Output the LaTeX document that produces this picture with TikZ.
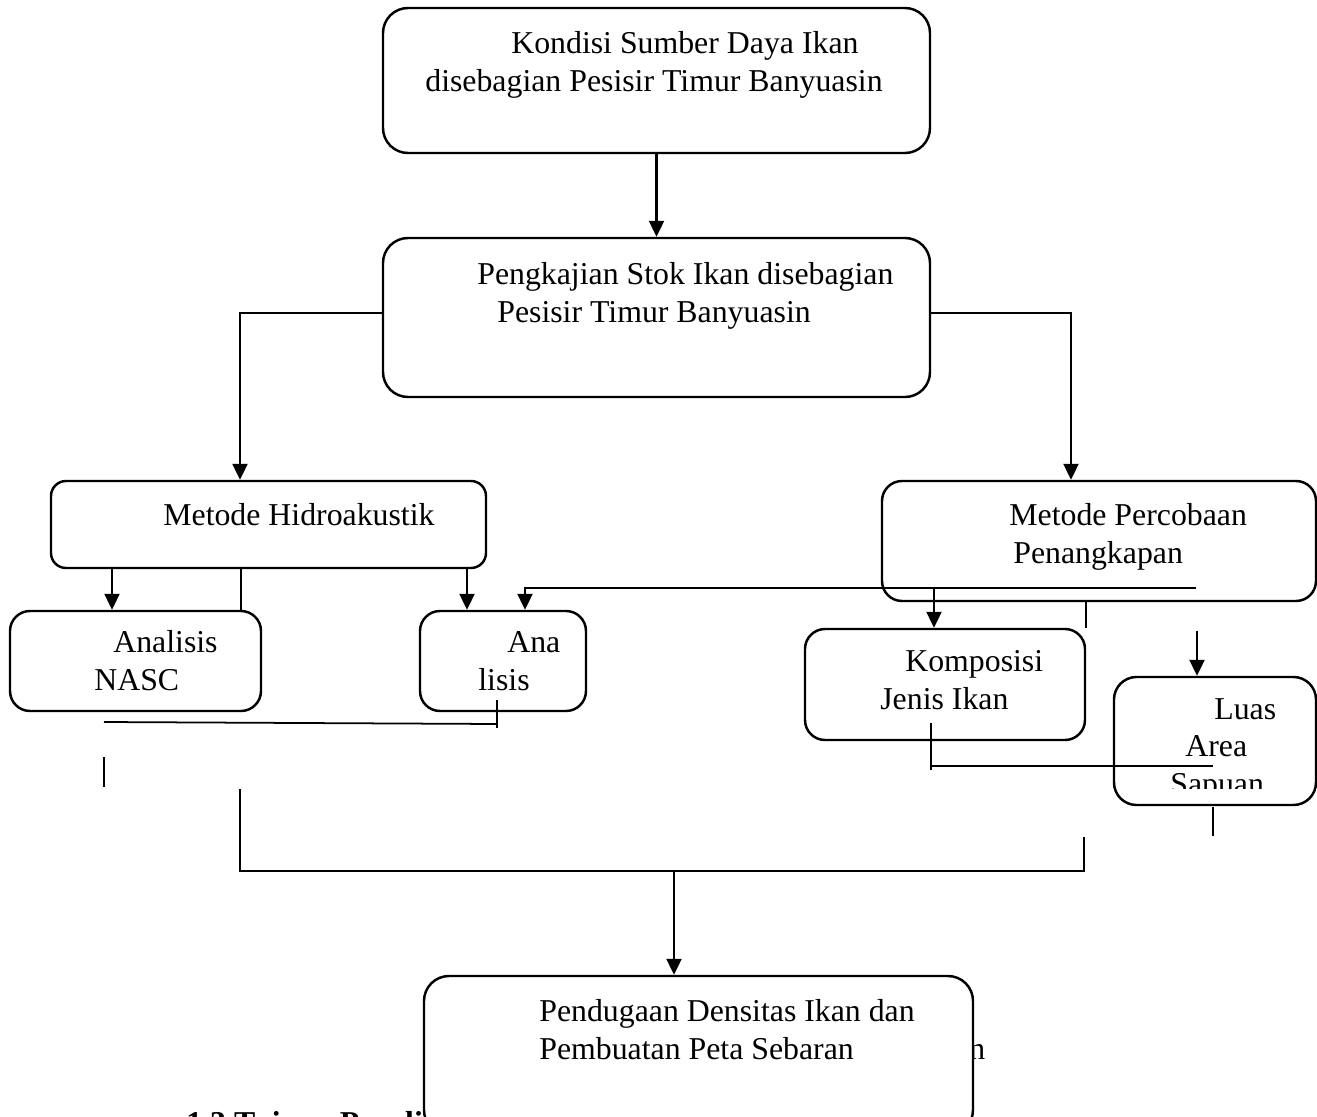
\documentclass[tikz,border=0pt]{standalone}
\usepackage{fontspec}
\setmainfont{Liberation Serif}
\usetikzlibrary{arrows.meta, calc}

\tikzset{
  box/.style={
    rectangle, rounded corners=0.45cm,
    draw=black, line width=1.4pt, fill=white,
    inner sep=0pt
  },
  txt/.style={anchor=base west, inner sep=0pt, align=left,
    font=\fontsize{18.1}{21.3}\selectfont},
  arr/.style={-{Triangle[length=0.32cm, width=0.3cm]}, line width=1.3pt},
  ln/.style={line width=1.3pt},
  thinLn/.style={line width=1pt}
}

\begin{document}
\begin{tikzpicture}
  \useasboundingbox (0,0) rectangle (26.34,-22.34);
  \clip (0,0) rectangle (26.34,-22.34);

  % text lying under the last box
  \node[txt, font=\fontsize{18.1}{21.3}\selectfont\bfseries] (tujuan) at (3.72,-22.66) {1.3 Tujuan Penelitian};
  \node[txt] (sisa) at (19.38,-21.18) {n};

  % boxes
  \node[box, minimum width=10.94cm, minimum height=2.9cm, rounded corners=0.5cm] (kondisi) at (13.13,-1.61) {};
  \node[box, minimum width=10.94cm, minimum height=3.18cm, rounded corners=0.5cm] (kajian) at (13.13,-6.35) {};
  \node[box, minimum width=8.7cm, minimum height=1.74cm, rounded corners=0.3cm] (hidro) at (5.37,-10.49) {};
  \node[box, minimum width=8.68cm, minimum height=2.4cm, rounded corners=0.4cm] (tangkap) at (21.98,-10.82) {};
  \node[box, minimum width=5.02cm, minimum height=2cm, rounded corners=0.4cm] (nasc) at (2.71,-13.22) {};
  \node[box, minimum width=3.32cm, minimum height=2cm, rounded corners=0.4cm] (ana) at (10.06,-13.22) {};
  \node[box, minimum width=5.6cm, minimum height=2.22cm, rounded corners=0.4cm] (kompo) at (18.9,-13.69) {};
  \node[box, minimum width=4.04cm, minimum height=2.56cm, rounded corners=0.45cm] (luas) at (24.3,-14.82) {};
  \node[box, minimum width=10.98cm, minimum height=3.18cm, rounded corners=0.5cm] (duga) at (13.97,-21.11) {};

  % box texts (anchored at the last line)
  \node[txt] (tKondisi) at (8.5,-1.82) {\hspace*{1.72cm}Kondisi Sumber Daya Ikan\\disebagian Pesisir Timur Banyuasin};
  \node[txt] (tKajian) at (9.54,-6.44) {Pengkajian Stok Ikan disebagian\\\hspace*{0.4cm}Pesisir Timur Banyuasin};
  \node[txt] (tHidro) at (3.26,-10.5) {Metode Hidroakustik};
  \node[txt] (tTangkap) at (20.18,-11.26) {Metode Percobaan\\\hspace*{0.08cm}Penangkapan};
  \node[txt] (tNasc) at (1.88,-13.8) {\hspace*{0.38cm}Analisis\\NASC};
  \node[txt] (tAna) at (9.56,-13.8) {\hspace*{0.58cm}Ana\\lisis};
  \node[txt] (tKompo) at (17.6,-14.18) {\hspace*{0.5cm}Komposisi\\Jenis Ikan};
  \begin{scope}
    \clip (22.2,-13.5) rectangle (26.3,-15.76);
    \node[txt] (tLuas) at (23.4,-15.88) {\hspace*{0.88cm}Luas\\\hspace*{0.3cm}Area\\Sapuan};
  \end{scope}
  \node[txt] (tDuga) at (10.78,-21.18) {Pendugaan Densitas Ikan dan\\Pembuatan Peta Sebaran};

  % kondisi -> kajian
  \draw[arr] (kondisi) -- (kajian);

  % kajian -> both methods
  \draw[arr] ([yshift=0.09cm]kajian.west) -| ([xshift=-0.57cm]hidro.north);
  \draw[arr] ([yshift=0.09cm]kajian.east) -| ([xshift=-0.56cm]tangkap.north);

  % hidro -> nasc, ana
  \draw[arr] ([xshift=-0.47cm]nasc.north |- hidro.south) -- ([xshift=-0.47cm]nasc.north);
  \draw[ln] ([xshift=-0.42cm]nasc.north east |- hidro.south) -- ([xshift=-0.42cm]nasc.north east);
  \draw[arr] ([xshift=-0.72cm]ana.north |- hidro.south) -- ([xshift=-0.72cm]ana.north);

  % tangkap -> ana, kompo, luas
  \coordinate (jalur) at (23.92,-11.76);
  \draw[arr] (jalur) -| ([xshift=0.44cm]ana.north);
  \draw[arr] ([xshift=-0.22cm]kompo.north |- jalur) -- ([xshift=-0.22cm]kompo.north);
  \draw[thinLn] (kompo.north east |- tangkap.south) -- (kompo.north east);
  \coordinate (luasIn) at (23.94,-12.62);
  \draw[arr] (luasIn) -- (luasIn |- luas.north);

  % loose strokes under nasc and ana
  \coordinate (anaA) at (9.94,-14.0);
  \coordinate (anaB) at (9.94,-14.56);
  \coordinate (nascA) at (2.08,-14.44);
  \coordinate (nascB) at (2.08,-15.14);
  \coordinate (nascC) at (2.08,-15.74);
  \draw[thinLn] (anaA) -- (anaB);
  \draw[thinLn] (nascA) -- (9.94,-14.48);
  \draw[thinLn] (nascB) -- (nascC);

  % loose strokes under kompo and luas
  \coordinate (kompoA) at (18.62,-14.46);
  \coordinate (kompoB) at (18.62,-15.4);
  \coordinate (luasA) at (24.26,-16.14);
  \coordinate (luasB) at (24.26,-16.72);
  \draw[thinLn] (kompoA) -- (kompoB);
  \draw[thinLn] (kompoA |- 0,-15.32) -- (luasA |- 0,-15.32);
  \draw[thinLn] (luasA) -- (luasB);

  % gathering line -> duga
  \coordinate (kiri) at (4.8,-15.78);
  \coordinate (kanan) at (21.68,-16.74);
  \coordinate (tengah) at (13.48,-17.42);
  \draw[ln] (kiri) |- (kanan |- tengah) -- (kanan);
  \draw[arr] (tengah) -- (tengah |- duga.north);

\end{tikzpicture}
\end{document}
